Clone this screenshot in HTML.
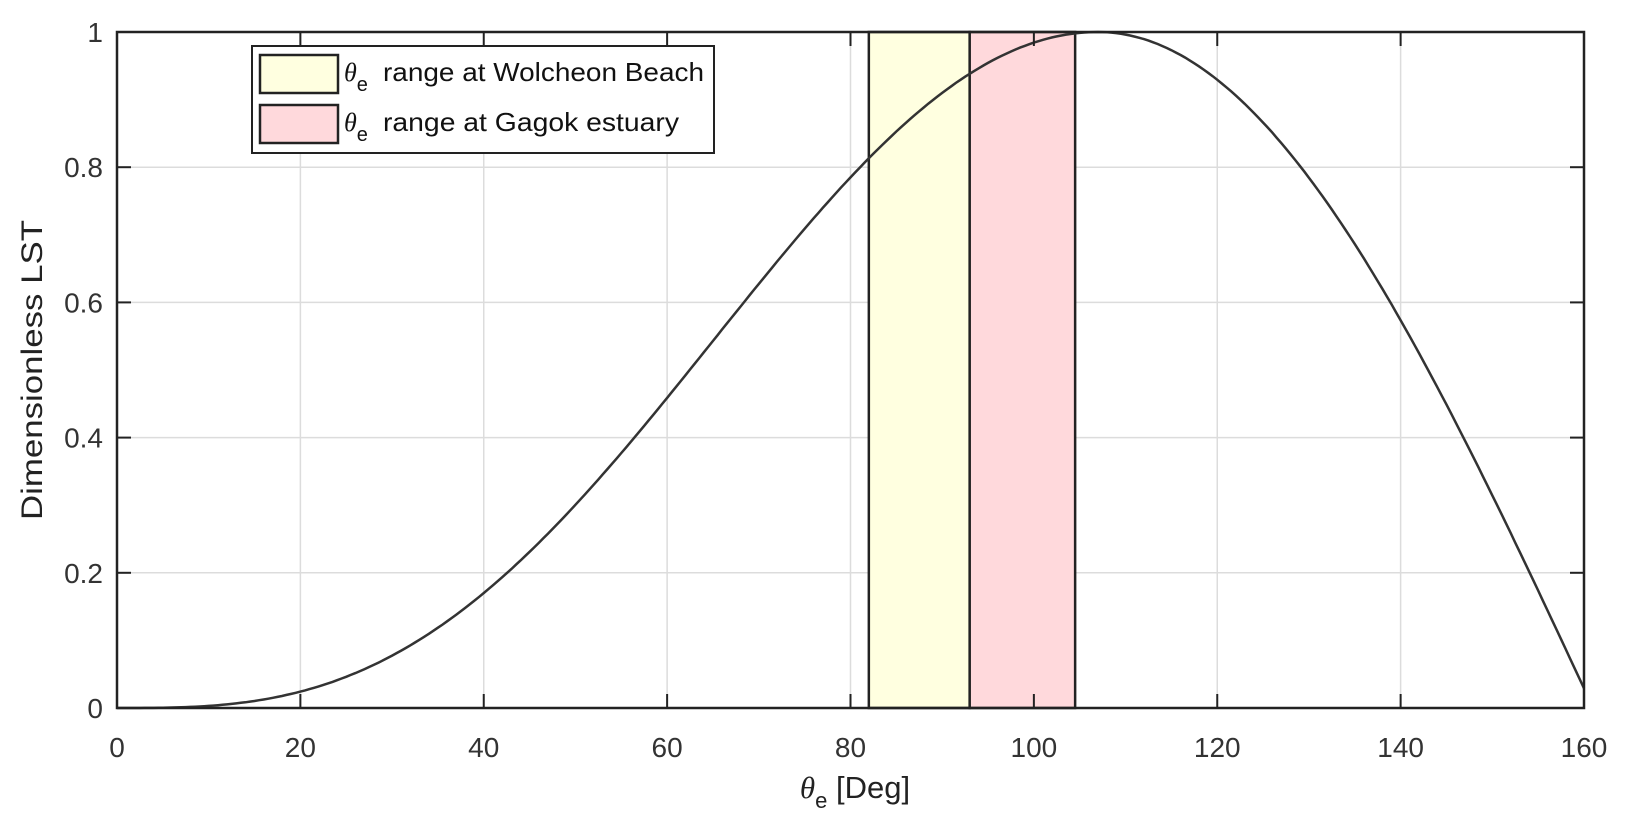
<!DOCTYPE html>
<html><head><meta charset="utf-8"><style>
html,body{margin:0;padding:0;background:#fff}
svg{display:block;font-family:"Liberation Sans",Arial,sans-serif}
</style></head><body>
<svg id="s" width="1632" height="840" viewBox="0 0 1632 840" xmlns="http://www.w3.org/2000/svg">
<g id="grid" stroke="#dcdcdc" stroke-width="1.5"></g>
<rect x="0" y="0" width="0" height="0" id="ry" fill="#ffffe0" stroke="#222" stroke-width="2.5"/>
<rect x="0" y="0" width="0" height="0" id="rr" fill="#ffd9dc" stroke="#222" stroke-width="2.5"/>
<path id="curve" fill="none" stroke="#333" stroke-width="2.5"/>
<g id="ticks" stroke="#222" stroke-width="2"></g>
<rect x="117" y="32" width="1467" height="676" fill="none" stroke="#222" stroke-width="2.5"/>
<g id="labels" font-size="28" fill="#333"></g>
<text transform="translate(42,370) rotate(-90)" text-anchor="middle" font-size="30" fill="#222" textLength="300" lengthAdjust="spacingAndGlyphs">Dimensionless LST</text>
<text x="855" y="798" text-anchor="middle" font-size="31" fill="#222"><tspan font-family="Liberation Serif,serif" font-style="italic">θ</tspan><tspan dy="10" font-size="22">e</tspan><tspan dy="-10"> [Deg]</tspan></text>
<rect x="252" y="46" width="462" height="107" fill="#fff" stroke="#222" stroke-width="2"/>
<rect x="260" y="55" width="78" height="38" fill="#ffffe0" stroke="#222" stroke-width="2.5"/>
<rect x="260" y="105" width="78" height="38" fill="#ffd9dc" stroke="#222" stroke-width="2.5"/>
<text x="344" y="81" font-size="26" fill="#111"><tspan font-family="Liberation Serif,serif" font-style="italic">θ</tspan><tspan dy="10" font-size="20">e</tspan></text>
<text x="383" y="81" font-size="26" fill="#111" textLength="321" lengthAdjust="spacingAndGlyphs">range at Wolcheon Beach</text>
<text x="344" y="131" font-size="26" fill="#111"><tspan font-family="Liberation Serif,serif" font-style="italic">θ</tspan><tspan dy="10" font-size="20">e</tspan></text>
<text x="383" y="131" font-size="26" fill="#111" textLength="296" lengthAdjust="spacingAndGlyphs">range at Gagok estuary</text>
</svg>
<script>
var L=117,R=1584,T=32,B=708;
function X(v){return L+(R-L)*v/160}
function Y(v){return B-(B-T)*v}
var ns="http://www.w3.org/2000/svg";
function el(p,t,a,txt){var e=document.createElementNS(ns,t);for(var k in a)e.setAttribute(k,a[k]);if(txt!=null)e.textContent=txt;document.getElementById(p).appendChild(e);}
for(var i=1;i<8;i++){el('grid','line',{x1:X(i*20),x2:X(i*20),y1:T,y2:B});}
for(var j=1;j<5;j++){el('grid','line',{x1:L,x2:R,y1:Y(j*0.2),y2:Y(j*0.2)});}
for(var i=0;i<=8;i++){var x=X(i*20);el('ticks','line',{x1:x,x2:x,y1:B,y2:B-14});el('ticks','line',{x1:x,x2:x,y1:T,y2:T+14});
 el('labels','text',{x:x,y:757,'text-anchor':'middle'},String(i*20));}
for(var j=0;j<=5;j++){var y=Y(j*0.2);el('ticks','line',{x1:L,x2:L+14,y1:y,y2:y});el('ticks','line',{x1:R,x2:R-14,y1:y,y2:y});
 el('labels','text',{x:103,y:y+10,'text-anchor':'end'},j==0?'0':j==5?'1':(j*0.2).toFixed(1));}
function sr(id,a,b){var r=document.getElementById(id);r.setAttribute('x',X(a));r.setAttribute('width',X(b)-X(a));r.setAttribute('y',T);r.setAttribute('height',B-T);}
sr('ry',82,93);sr('rr',93,104.5);
function f(t){if(t<=107){return Math.pow(Math.sin(t*Math.PI/214),3);}return Math.cos((t-107)/54*Math.PI/2);}
var d='';for(var t=0;t<=160;t+=0.5){d+=(t?'L':'M')+X(t).toFixed(1)+','+Y(f(t)).toFixed(1);}
document.getElementById('curve').setAttribute('d',d);
</script>
</body></html>
